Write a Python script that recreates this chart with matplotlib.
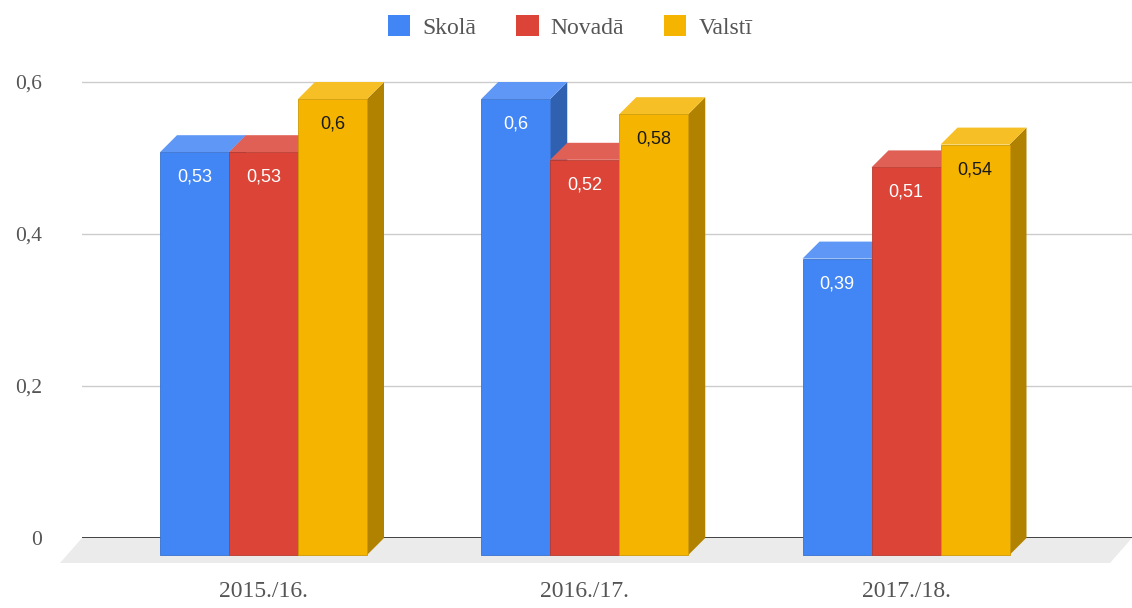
import matplotlib
matplotlib.use("Agg")
import matplotlib.pyplot as plt
from matplotlib.patches import Polygon, Patch
from matplotlib.colors import to_rgb

categories = ['2015./16.', '2016./17.', '2017./18.']
series_names = ['Skolā', 'Novadā', 'Valstī']
skola = [0.53, 0.6, 0.39]
novada = [0.53, 0.52, 0.51]
valsti = [0.6, 0.58, 0.54]
yticks = [0, 0.2, 0.4, 0.6]

front_colors = ['#4285F4', '#DB4437', '#F4B400']
label_colors = ['white', 'white', '#1a1a1a']


def shade(c, f):
    r, g, b = to_rgb(c)
    return (r * f, g * f, b * f)


def tint(c, f):
    r, g, b = to_rgb(c)
    return (r + (1 - r) * f, g + (1 - g) * f, b + (1 - b) * f)


W, H = 1132, 608
fig = plt.figure(figsize=(W / 100, H / 100), dpi=100)
fig.patch.set_facecolor('white')

# back plane of the plot: x from 82px to the right edge, y from 30px down to 538px
px_per_unit_y = 760.0
px_per_cat = 321.25
ax = fig.add_axes([82 / W, (H - 538) / H, 1 - 82 / W, (538 - 30) / H])
ax.set_xlim((82 - 263.5) / px_per_cat, (W - 263.5) / px_per_cat)
ax.set_ylim(0, (538 - 30) / px_per_unit_y)
for s in ax.spines.values():
    s.set_visible(False)

# 3d depth offsets
dx = 17 / px_per_cat
dy = 17 / px_per_unit_y
bw = 69 / px_per_cat

# gridlines + baseline
ax.set_yticks(yticks)
ax.set_yticklabels(['0' if v == 0 else f'{v:g}'.replace('.', ',') for v in yticks],
                   fontfamily='Liberation Serif', fontsize=15.5, color='#555555')
ax.yaxis.grid(True, color='#cccccc', lw=1)
ax.set_axisbelow(True)
ax.axhline(0, color='#333333', lw=1.3, zorder=1)
ax.tick_params(axis='y', length=0, pad=29)

# floor
x0, x1 = ax.get_xlim()
fd_x = 22 / px_per_cat
fd_y = 25 / px_per_unit_y
floor = Polygon([(x0 - fd_x, -fd_y), (x1 - fd_x, -fd_y), (x1, 0), (x0, 0)],
                closed=True, facecolor='#ebebeb', edgecolor='none', zorder=0.5, clip_on=False)
ax.add_patch(floor)

ax.set_xticks(range(len(categories)))
ax.set_xticklabels(categories, fontfamily='Liberation Serif', fontsize=17, color='#555555')
ax.tick_params(axis='x', length=0, pad=31)

series = [skola, novada, valsti]
z = 2
for i in range(len(categories)):
    for k, vals in enumerate(series):
        v = vals[i]
        c = front_colors[k]
        xl = i + (k - 1.5) * bw
        xr = xl + bw
        side = Polygon([(xr, -dy), (xr + dx, 0), (xr + dx, v), (xr, v - dy)],
                       closed=True, facecolor=shade(c, 0.72), edgecolor='none',
                       zorder=z, clip_on=False)
        top = Polygon([(xl, v - dy), (xl + dx, v), (xr + dx, v), (xr, v - dy)],
                      closed=True, facecolor=tint(c, 0.15), edgecolor='none',
                      zorder=z + 0.1, clip_on=False)
        ax.add_patch(side)
        ax.add_patch(top)
        ax.bar(xl, v, width=bw, bottom=-dy, align='edge', color=c,
               edgecolor=shade(c, 0.85), lw=0.6, zorder=z + 0.2, clip_on=False)
        ax.text(xl + bw / 2, v - dy - 25 / px_per_unit_y, f'{v:g}'.replace('.', ','),
                ha='center', va='center', fontsize=13, color=label_colors[k],
                fontfamily='Liberation Sans', zorder=z + 0.3)
        z += 1

handles = [Patch(facecolor=c, edgecolor='none') for c in front_colors]
fig.legend(handles, series_names, loc='center', bbox_to_anchor=(570 / W, 1 - 27 / H),
           ncol=3, frameon=False, handlelength=0.95, handleheight=0.95,
           handletextpad=0.5, columnspacing=1.7,
           prop={'family': 'Liberation Serif', 'size': 17}, labelcolor='#555555')

fig.savefig('out.png', dpi=100, facecolor='white')
